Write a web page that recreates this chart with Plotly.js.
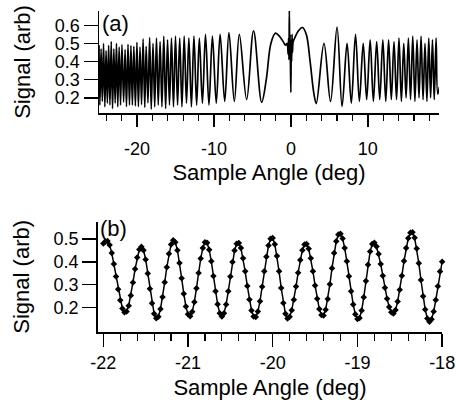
<!DOCTYPE html>
<html>
<head>
<meta charset="utf-8">
<script src="https://cdn.plot.ly/plotly-3.0.1.min.js"></script>
<style>
  html, body { margin: 0; padding: 0; background: #fff; }
  #chart { width: 456px; height: 400px; }
</style>
</head>
<body>
<div id="chart"></div>
<script>
// Panel (a): full scan, turning points
const scanAngle = [
  -24.94, -24.83, -24.67, -24.51, -24.35, -24.18, -24.02, -23.85, -23.69, -23.52,
  -23.35, -23.18, -23.01, -22.84, -22.67, -22.50, -22.32, -22.14, -21.96, -21.74,
  -21.55, -21.37, -21.17, -20.98, -20.79, -20.60, -20.41, -20.21, -20.01, -19.82,
  -19.61, -19.41, -19.21, -18.99, -18.81, -18.58, -18.36, -18.15, -17.92, -17.70,
  -17.47, -17.24, -17.00, -16.76, -16.52, -16.28, -16.03, -15.78, -15.52, -15.26,
  -15.00, -14.73, -14.45, -14.16, -13.87, -13.57, -13.26, -12.93, -12.60, -12.25,
  -11.90, -11.50, -11.10, -10.65, -10.20, -9.70, -9.20, -8.60, -8.05, -7.35,
  -6.70, -5.75, -4.85, -3.80, -3.20, -2.60, -2.00, -1.50, -1.00, -0.70,
  -0.50, -0.35, -0.30, -0.25, -0.20, -0.15, -0.10, -0.05, 0.00, 0.05,
  0.10, 0.15, 0.20, 0.30, 0.50, 0.90, 1.50, 2.00, 2.50, 3.00,
  3.30, 4.30, 5.15, 6.00, 6.65, 7.30, 7.85, 8.40, 8.90, 9.40,
  9.85, 10.30, 10.72, 11.15, 11.55, 11.95, 12.33, 12.70, 13.05, 13.40,
  13.73, 14.05, 14.36, 14.67, 14.97, 15.27, 15.55, 15.84, 16.12, 16.39,
  16.65, 16.92, 17.18, 17.43, 17.68, 17.92, 18.16, 18.40, 18.63, 18.87,
  19.08, 19.30
];
const scanSignal = [
  0.49, 0.16, 0.47, 0.18, 0.50, 0.15, 0.46, 0.17, 0.49, 0.16,
  0.51, 0.14, 0.47, 0.17, 0.50, 0.15, 0.48, 0.16, 0.493, 0.176,
  0.466, 0.151, 0.495, 0.160, 0.488, 0.160, 0.484, 0.155, 0.506, 0.151,
  0.480, 0.162, 0.525, 0.147, 0.484, 0.172, 0.532, 0.137, 0.50, 0.15,
  0.53, 0.16, 0.51, 0.15, 0.54, 0.14, 0.52, 0.16, 0.53, 0.15,
  0.54, 0.16, 0.53, 0.15, 0.54, 0.17, 0.53, 0.15, 0.54, 0.16,
  0.53, 0.17, 0.55, 0.16, 0.54, 0.17, 0.55, 0.18, 0.56, 0.18,
  0.55, 0.19, 0.57, 0.175, 0.30, 0.50, 0.557, 0.54, 0.51, 0.49,
  0.50, 0.44, 0.53, 0.41, 0.69, 0.42, 0.55, 0.36, 0.23, 0.52,
  0.40, 0.55, 0.45, 0.51, 0.53, 0.565, 0.588, 0.55, 0.40, 0.22,
  0.168, 0.50, 0.18, 0.59, 0.152, 0.50, 0.17, 0.55, 0.18, 0.50,
  0.19, 0.52, 0.18, 0.51, 0.19, 0.52, 0.18, 0.52, 0.19, 0.51,
  0.19, 0.53, 0.18, 0.50, 0.20, 0.53, 0.19, 0.54, 0.18, 0.52,
  0.20, 0.54, 0.19, 0.50, 0.18, 0.53, 0.20, 0.52, 0.19, 0.53,
  0.22, 0.26
];

// Panel (b): zoomed region, sampled points
const zoomAngle = [
  -22.000, -21.975, -21.950, -21.925, -21.900, -21.875, -21.850, -21.825, -21.800, -21.775,
  -21.750, -21.725, -21.700, -21.675, -21.650, -21.625, -21.600, -21.575, -21.550, -21.525,
  -21.500, -21.475, -21.450, -21.425, -21.400, -21.375, -21.350, -21.325, -21.300, -21.275,
  -21.250, -21.225, -21.200, -21.175, -21.150, -21.125, -21.100, -21.075, -21.050, -21.025,
  -21.000, -20.975, -20.950, -20.925, -20.900, -20.875, -20.850, -20.825, -20.800, -20.775,
  -20.750, -20.725, -20.700, -20.675, -20.650, -20.625, -20.600, -20.575, -20.550, -20.525,
  -20.500, -20.475, -20.450, -20.425, -20.400, -20.375, -20.350, -20.325, -20.300, -20.275,
  -20.250, -20.225, -20.200, -20.175, -20.150, -20.125, -20.100, -20.075, -20.050, -20.025,
  -20.000, -19.975, -19.950, -19.925, -19.900, -19.875, -19.850, -19.825, -19.800, -19.775,
  -19.750, -19.725, -19.700, -19.675, -19.650, -19.625, -19.600, -19.575, -19.550, -19.525,
  -19.500, -19.475, -19.450, -19.425, -19.400, -19.375, -19.350, -19.325, -19.300, -19.275,
  -19.250, -19.225, -19.200, -19.175, -19.150, -19.125, -19.100, -19.075, -19.050, -19.025,
  -19.000, -18.975, -18.950, -18.925, -18.900, -18.875, -18.850, -18.825, -18.800, -18.775,
  -18.750, -18.725, -18.700, -18.675, -18.650, -18.625, -18.600, -18.575, -18.550, -18.525,
  -18.500, -18.475, -18.450, -18.425, -18.400, -18.375, -18.350, -18.325, -18.300, -18.275,
  -18.250, -18.225, -18.200, -18.175, -18.150, -18.125, -18.100, -18.075, -18.050, -18.025,
  -18.000
];
const zoomSignal = [
  0.480, 0.489, 0.491, 0.474, 0.438, 0.390, 0.335, 0.279, 0.231, 0.195,
  0.178, 0.181, 0.207, 0.252, 0.309, 0.368, 0.419, 0.454, 0.466, 0.451,
  0.410, 0.349, 0.281, 0.218, 0.172, 0.152, 0.159, 0.192, 0.245, 0.310,
  0.376, 0.435, 0.476, 0.494, 0.486, 0.451, 0.395, 0.328, 0.260, 0.204,
  0.169, 0.161, 0.180, 0.223, 0.284, 0.351, 0.414, 0.461, 0.486, 0.483,
  0.453, 0.402, 0.338, 0.271, 0.213, 0.174, 0.160, 0.174, 0.212, 0.270,
  0.335, 0.399, 0.450, 0.479, 0.482, 0.460, 0.416, 0.358, 0.294, 0.234,
  0.186, 0.160, 0.157, 0.181, 0.227, 0.290, 0.358, 0.422, 0.472, 0.501,
  0.504, 0.477, 0.425, 0.358, 0.285, 0.219, 0.172, 0.151, 0.158, 0.187,
  0.233, 0.291, 0.352, 0.408, 0.451, 0.476, 0.478, 0.457, 0.415, 0.358,
  0.296, 0.238, 0.192, 0.166, 0.164, 0.189, 0.237, 0.301, 0.372, 0.438,
  0.490, 0.520, 0.523, 0.502, 0.460, 0.402, 0.336, 0.270, 0.212, 0.170,
  0.149, 0.153, 0.186, 0.244, 0.316, 0.387, 0.445, 0.478, 0.483, 0.467,
  0.434, 0.390, 0.339, 0.286, 0.238, 0.201, 0.178, 0.173, 0.188, 0.225,
  0.277, 0.339, 0.403, 0.460, 0.503, 0.528, 0.530, 0.506, 0.458, 0.393,
  0.320, 0.249, 0.190, 0.151, 0.137, 0.148, 0.181, 0.232, 0.293, 0.357,
  0.400
];

// Tick positions and labels (hyphen minus as in the original)
const scanTickVals = [-20, -10, 0, 10];
const scanTickText = ["-20", "-10", "0", "10"];
const zoomTickVals = [-22, -21, -20, -19, -18];
const zoomTickText = ["-22", "-21", "-20", "-19", "-18"];
const scanSignalTicks = [0.2, 0.3, 0.4, 0.5, 0.6];
const zoomSignalTicks = [0.2, 0.3, 0.4, 0.5];

const panelLabels = ["(a)", "(b)"];
const xTitle = "Sample Angle (deg)";
const yTitle = "Signal (arb)";

const FONT = "Liberation Sans, Arial, Helvetica, sans-serif";
const tickFont = {family: FONT, size: 18, color: "#000"};
const titleFont = {family: FONT, size: 22, color: "#000"};

const traces = [
  {
    x: scanAngle, y: scanSignal, xaxis: "x", yaxis: "y",
    type: "scatter", mode: "lines",
    line: {color: "#000", width: 1.7, shape: "spline", smoothing: 1},
    cliponaxis: false, hoverinfo: "skip"
  },
  {
    x: zoomAngle, y: zoomSignal, xaxis: "x2", yaxis: "y2",
    type: "scatter", mode: "lines+markers",
    line: {color: "#000", width: 1.5},
    marker: {symbol: "diamond", size: 5, color: "#000"},
    cliponaxis: false, hoverinfo: "skip"
  }
];

const baseAxis = {
  showline: true, linecolor: "#000", linewidth: 1.5,
  showgrid: false, zeroline: false,
  ticks: "outside", tickcolor: "#000", tickwidth: 1.5,
  tickfont: tickFont, mirror: false, fixedrange: true
};

const layout = {
  width: 456, height: 400,
  margin: {l: 0, r: 0, t: 0, b: 0},
  paper_bgcolor: "#fff", plot_bgcolor: "#fff",
  showlegend: false,
  xaxis: Object.assign({}, baseAxis, {
    domain: [99/456, 439/456], anchor: "y",
    range: [-24.94, 19.25],
    tickmode: "array", tickvals: scanTickVals, ticktext: scanTickText, ticklen: 12,
    ticklabelstandoff: 7,
    minor: {tick0: 0, dtick: 2, ticklen: 6, ticks: "outside", tickcolor: "#000", tickwidth: 1.2, showgrid: false},
    title: {text: xTitle, font: titleFont, standoff: 6}
  }),
  yaxis: Object.assign({}, baseAxis, {
    domain: [(400-113)/400, (400-11)/400], anchor: "x",
    range: [0.116, 0.679],
    tickmode: "array", tickvals: scanSignalTicks, tickformat: ".1f", ticklen: 14,
    title: {text: yTitle, font: titleFont, standoff: 18}
  }),
  xaxis2: Object.assign({}, baseAxis, {
    domain: [97.7/456, 442.3/456], anchor: "y2",
    range: [-22.066, -17.998],
    tickmode: "array", tickvals: zoomTickVals, ticktext: zoomTickText, ticklen: 13,
    ticklabelstandoff: 1,
    minor: {tick0: -22, dtick: 0.2, ticklen: 7, ticks: "outside", tickcolor: "#000", tickwidth: 1.2, showgrid: false},
    title: {text: xTitle, font: titleFont, standoff: 11}
  }),
  yaxis2: Object.assign({}, baseAxis, {
    domain: [(400-332)/400, (400-221.7)/400], anchor: "x2",
    range: [0.0915, 0.576],
    tickmode: "array", tickvals: zoomSignalTicks, tickformat: ".1f", ticklen: 14,
    title: {text: yTitle, font: titleFont, standoff: 18}
  }),
  annotations: [
    {text: panelLabels[0], xref: "paper", yref: "paper", x: 100/456, y: (400-23)/400,
     xanchor: "left", yanchor: "middle", showarrow: false, font: titleFont},
    {text: panelLabels[1], xref: "paper", yref: "paper", x: 98/456, y: (400-228)/400,
     xanchor: "left", yanchor: "middle", showarrow: false, font: titleFont}
  ]
};

Plotly.newPlot("chart", traces, layout, {staticPlot: true, displayModeBar: false});
</script>
</body>
</html>
